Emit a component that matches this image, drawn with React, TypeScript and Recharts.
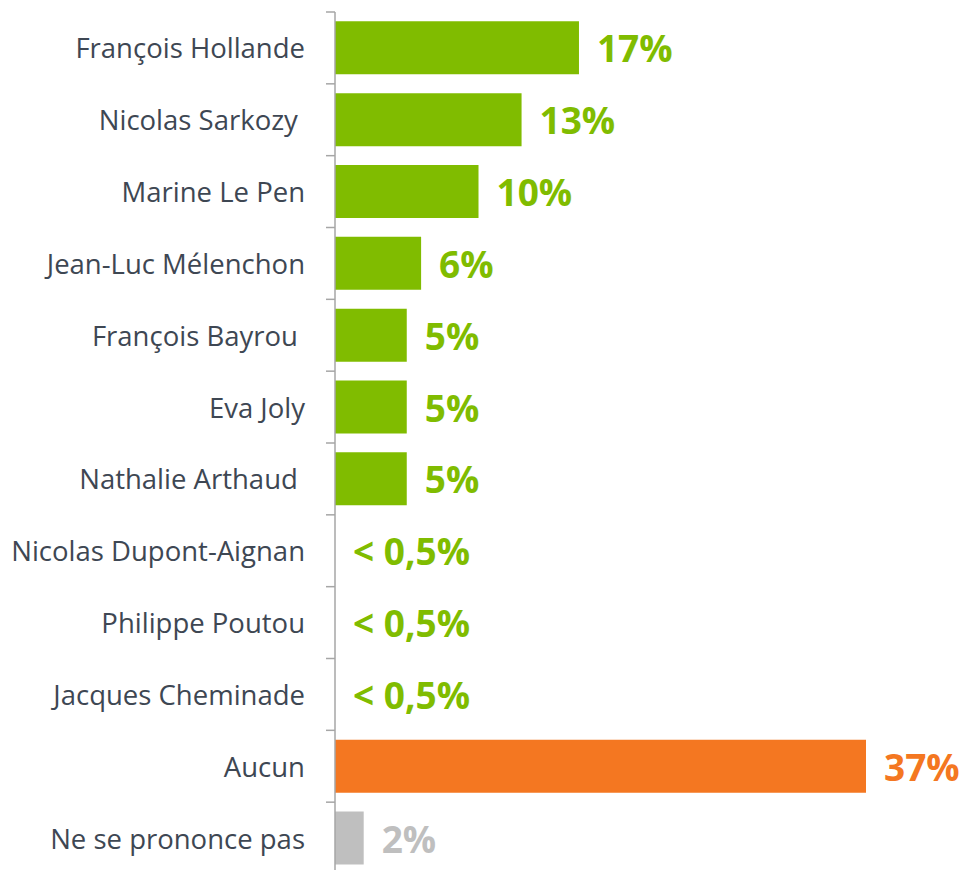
import { BarChart, Bar, XAxis, YAxis, Cell, LabelList } from 'recharts';

const candidates = [
  'François Hollande',
  'Nicolas Sarkozy\u00a0',
  'Marine Le Pen',
  'Jean-Luc Mélenchon',
  'François Bayrou\u00a0',
  'Eva Joly',
  'Nathalie Arthaud\u00a0',
  'Nicolas Dupont-Aignan',
  'Philippe Poutou',
  'Jacques Cheminade',
  'Aucun',
  'Ne se prononce pas',
];
const values = [17, 13, 10, 6, 5, 5, 5, 0, 0, 0, 37, 2];
const valueLabels = ['17%', '13%', '10%', '6%', '5%', '5%', '5%', '< 0,5%', '< 0,5%', '< 0,5%', '37%', '2%'];
const barColors = [
  '#80BC00', '#80BC00', '#80BC00', '#80BC00', '#80BC00', '#80BC00',
  '#80BC00', '#80BC00', '#80BC00', '#80BC00', '#F47721', '#BFBFBF',
];

const data = candidates.map((name, i) => ({ name, value: values[i], label: valueLabels[i], color: barColors[i] }));

const W = 965;
const H = 874;
const MARGIN = { top: 12, right: 99, bottom: 0, left: 0 };
const BAND = (H - MARGIN.top - MARGIN.bottom) / candidates.length;

function CategoryTick({ x, y, payload }: { x?: number; y?: number; payload?: { value: string } }) {
  const cx = x ?? 0;
  const cy = y ?? 0;
  return (
    <g>
      <line x1={cx - 1} x2={cx + 8} y1={cy - BAND / 2} y2={cy - BAND / 2} stroke="#A6A6A6" strokeWidth={1.5} />
      <text x={cx - 22} y={cy} textAnchor="end" dominantBaseline="central"
        style={{ fontSize: 27.5, fill: '#3E4753', fontFamily: '"Open Sans", sans-serif', whiteSpace: 'pre' }}>
        {payload?.value}
      </text>
    </g>
  );
}

function ValueLabel(props: { x?: number; y?: number; width?: number; height?: number; value?: string }) {
  const { x = 0, y = 0, width = 0, height = 0, value = '' } = props;
  const i = valueLabels.indexOf(value);
  return (
    <text x={x + width + 18} y={y + height / 2} dominantBaseline="central"
      style={{ fontSize: 37, fontWeight: 700, fill: barColors[valueLabels.lastIndexOf(value)] ?? barColors[i], fontFamily: '"Open Sans", sans-serif' }}>
      {value}
    </text>
  );
}

export default function App() {
  return (
    <div style={{ position: 'absolute', left: 0, top: 0, width: W, height: 870, overflow: 'hidden', background: '#fff' }}>
      <BarChart width={W} height={H} data={data} layout="vertical" margin={MARGIN} barCategoryGap="13%">
        <XAxis type="number" domain={[0, 37]} hide />
        <YAxis type="category" dataKey="name" width={335} axisLine={{ stroke: '#A6A6A6', strokeWidth: 1.5 }}
          tickLine={false} tick={<CategoryTick />} interval={0} />
        <Bar dataKey="value" isAnimationActive={false} minPointSize={0.01}>
          {data.map((d, i) => (
            <Cell key={i} fill={d.color} />
          ))}
          <LabelList dataKey="label" content={<ValueLabel />} />
        </Bar>
      </BarChart>
    </div>
  );
}
